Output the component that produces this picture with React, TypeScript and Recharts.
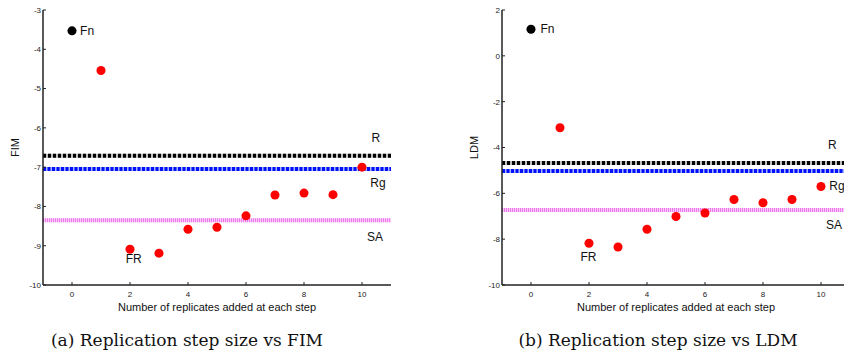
import React from "react"
import {
  ScatterChart,
  Scatter,
  XAxis,
  YAxis,
  ReferenceLine,
} from "recharts"

// replicates added per step
const steps = [1, 2, 3, 4, 5, 6, 7, 8, 9, 10]

// panel (a): FIM
const fimValues = [-4.54, -9.09, -9.19, -8.58, -8.53, -8.24, -7.71, -7.66, -7.7, -7.0]
const fimFn = -3.53
const fimR = -6.71
const fimRg = -7.05
const fimSA = -8.35
const fimTicks = [-10, -9, -8, -7, -6, -5, -4, -3]
const fimLabels = [
  { x: 0.52, y: -3.53, text: "Fn" },
  { x: 10.48, y: -6.26, text: "R" },
  { x: 10.55, y: -7.4, text: "Rg" },
  { x: 10.45, y: -8.78, text: "SA" },
  { x: 2.13, y: -9.34, text: "FR" },
]

// panel (b): LDM
const ldmValues = [-3.14, -8.18, -8.34, -7.57, -7.01, -6.86, -6.27, -6.41, -6.27, -5.7]
const ldmFn = 1.16
const ldmR = -4.68
const ldmRg = -5.02
const ldmSA = -6.73
const ldmTicks = [-10, -8, -6, -4, -2, 0, 2]
const ldmLabels = [
  { x: 0.57, y: 1.16, text: "Fn" },
  { x: 10.39, y: -3.88, text: "R" },
  { x: 10.55, y: -5.67, text: "Rg" },
  { x: 10.45, y: -7.37, text: "SA" },
  { x: 1.98, y: -8.77, text: "FR" },
]

const xTicks = [0, 2, 4, 6, 8, 10]
const xTitle = "Number of replicates added at each step"

const sans = "'Liberation Sans', Arial, sans-serif"

const AnnText = (props: any) => (
  <text
    x={props.cx}
    y={props.cy}
    textAnchor="middle"
    dominantBaseline="central"
    fontSize={12}
    fontFamily={sans}
    fill="#111"
  >
    {props.payload.text}
  </text>
)

interface PanelProps {
  values: number[]
  fn: number
  r: number
  rg: number
  sa: number
  ticks: number[]
  domain: [number, number]
  labels: { x: number; y: number; text: string }[]
  yTitle: string
  width: number
  marginRight: number
}

function Panel({ values, fn, r, rg, sa, ticks, domain, labels, yTitle, width, marginRight }: PanelProps) {
  const pts = steps.map((s, i) => ({ x: s, y: values[i] }))
  const fnPt = [{ x: 0, y: fn }]
  return (
    <ScatterChart width={width} height={316} margin={{ top: 10, right: marginRight, left: 0, bottom: 0 }}>
      <XAxis
        type="number"
        dataKey="x"
        domain={[-1, 11]}
        ticks={xTicks}
        allowDataOverflow
        height={31}
        tickSize={-3}
        tickMargin={9}
        tick={{ fontSize: 8, fill: "#222", fontFamily: sans }}
        axisLine={{ stroke: "#222", strokeWidth: 1.5 }}
        tickLine={{ stroke: "#222" }}
        label={{ value: xTitle, position: "insideBottom", offset: 5, style: { fontSize: 11, fill: "#111", fontFamily: sans } }}
      />
      <YAxis
        type="number"
        dataKey="y"
        domain={domain}
        ticks={ticks}
        allowDataOverflow
        width={43}
        tickSize={-3}
        tickMargin={5}
        tick={{ fontSize: 8, fill: "#222", fontFamily: sans }}
        axisLine={{ stroke: "#222", strokeWidth: 1.5 }}
        tickLine={{ stroke: "#222" }}
        label={{ value: yTitle, angle: -90, position: "insideLeft", offset: 15, style: { fontSize: 11, fill: "#111", fontFamily: sans, textAnchor: "middle" } }}
      />
      <ReferenceLine y={r} stroke="#bdbdbd" strokeWidth={4} />
      <ReferenceLine y={r} stroke="#000" strokeWidth={4} strokeDasharray="3 2" />
      <ReferenceLine y={rg} stroke="#a9b4ff" strokeWidth={4} />
      <ReferenceLine y={rg} stroke="#0010ff" strokeWidth={4} strokeDasharray="3 1.5" />
      <ReferenceLine y={sa} stroke="#f9ccf9" strokeWidth={4} />
      <ReferenceLine y={sa} stroke="#ee77ee" strokeWidth={4} strokeDasharray="1 1" />
      <Scatter data={pts} fill="#ff0000" isAnimationActive={false} />
      <Scatter data={fnPt} fill="#000" isAnimationActive={false} />
      <Scatter data={labels} shape={AnnText} isAnimationActive={false} />
    </ScatterChart>
  )
}

const captionStyle: React.CSSProperties = {
  position: "absolute",
  top: 330,
  fontFamily: "'DejaVu Serif', serif",
  fontSize: 17,
  lineHeight: "20px",
  color: "#111",
  whiteSpace: "nowrap",
  transform: "translateX(-50%)",
}

export default function App() {
  return (
    <div style={{ position: "absolute", left: 0, top: 0, width: 844, height: 360, overflow: "hidden", background: "#fff" }}>
      <div style={{ position: "absolute", left: 0, top: 0 }}>
        <Panel
          values={fimValues}
          fn={fimFn}
          r={fimR}
          rg={fimRg}
          sa={fimSA}
          ticks={fimTicks}
          domain={[-10, -3]}
          labels={fimLabels}
          yTitle="FIM"
          width={420}
          marginRight={29}
        />
      </div>
      <div style={{ position: "absolute", left: 459, top: 0 }}>
        <Panel
          values={ldmValues}
          fn={ldmFn}
          r={ldmR}
          rg={ldmRg}
          sa={ldmSA}
          ticks={ldmTicks}
          domain={[-10, 2]}
          labels={ldmLabels}
          yTitle="LDM"
          width={391}
          marginRight={0}
        />
      </div>
      <div style={{ ...captionStyle, left: 187 }}>(a) Replication step size vs FIM</div>
      <div style={{ ...captionStyle, left: 658 }}>(b) Replication step size vs LDM</div>
    </div>
  )
}
